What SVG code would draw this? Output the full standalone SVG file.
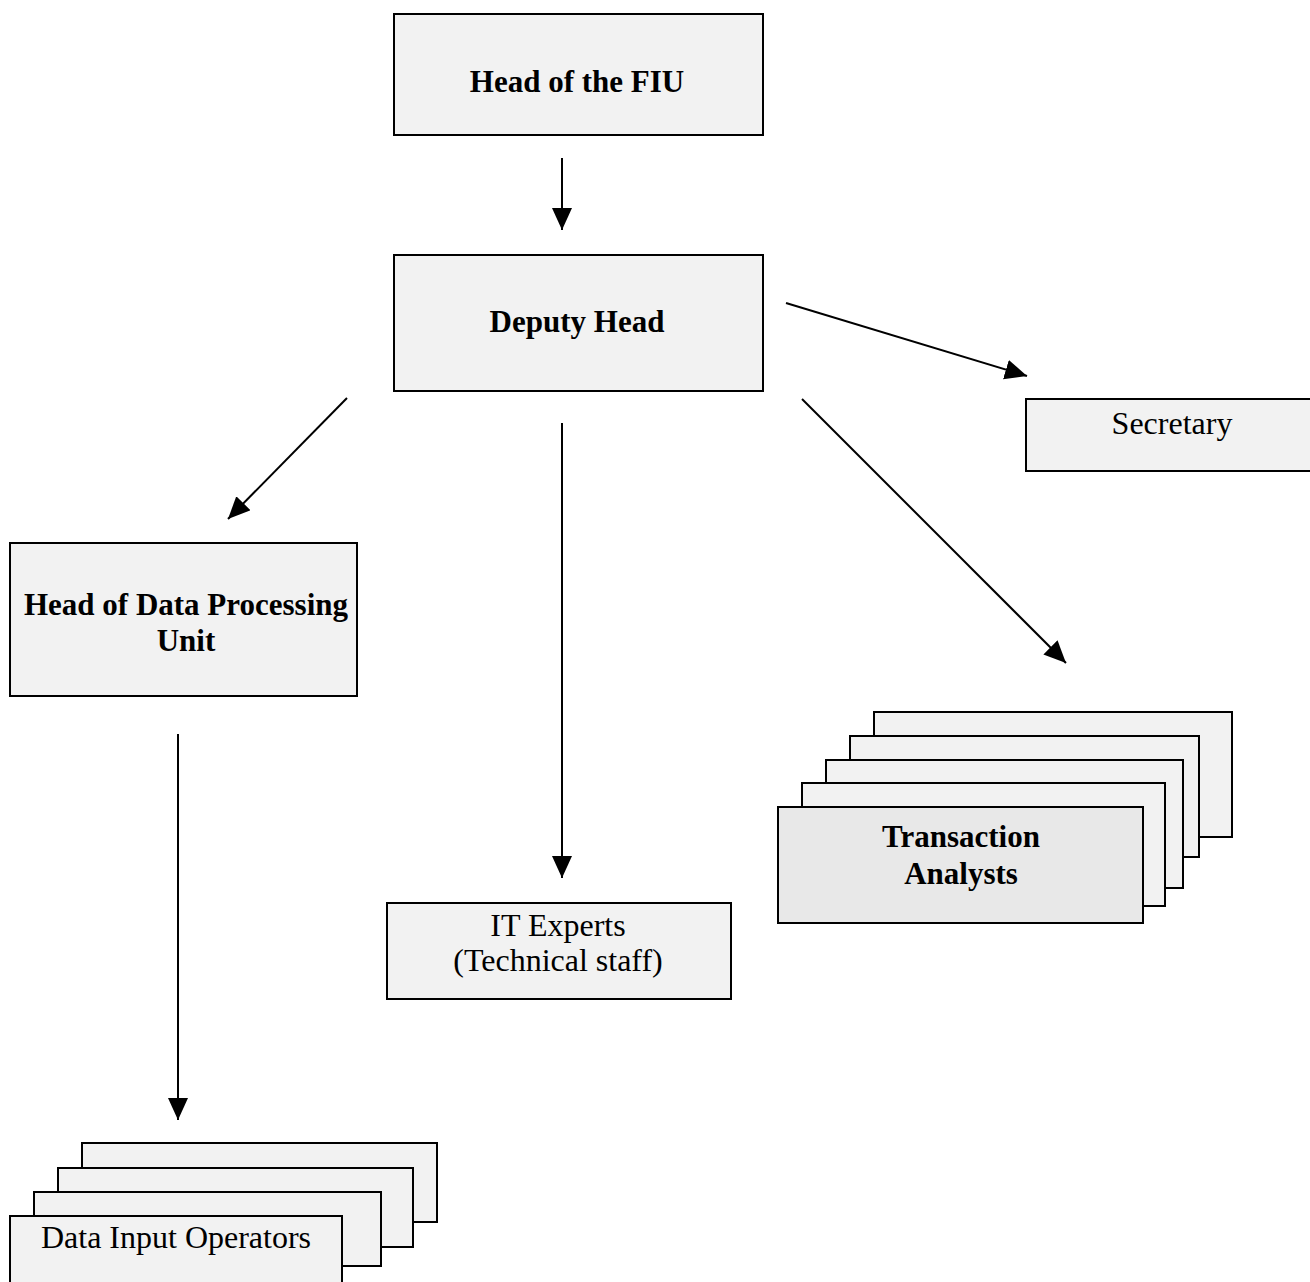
<svg xmlns="http://www.w3.org/2000/svg" width="1310" height="1282" viewBox="0 0 1310 1282">
  <style>
    .box { fill: #f2f2f2; stroke: #000; stroke-width: 2; }
    .front { fill: #e8e8e8; stroke: #000; stroke-width: 2; }
    .b { font-family: "Liberation Serif", "Times New Roman", serif; font-weight: bold; font-size: 31px; fill: #000; text-anchor: middle; }
    .r { font-family: "Liberation Serif", "Times New Roman", serif; font-size: 32px; fill: #000; text-anchor: middle; }
    .conn { stroke: #000; stroke-width: 2; fill: none; marker-end: url(#arrow); }
  </style>
  <defs>
    <marker id="arrow" markerUnits="userSpaceOnUse" markerWidth="23" markerHeight="21" refX="22" refY="10" orient="auto">
      <path d="M0,0 L22,10 L0,20 Z" fill="#000"/>
    </marker>
  </defs>
  <rect width="1310" height="1282" fill="#fff"/>

  <g id="head-fiu">
    <rect class="box" x="394" y="14" width="369" height="121"/>
    <text class="b" x="577" y="92">Head of the FIU</text>
  </g>

  <g id="deputy-head">
    <rect class="box" x="394" y="255" width="369" height="136"/>
    <text class="b" x="577" y="332">Deputy Head</text>
  </g>

  <g id="secretary">
    <rect class="box" x="1026" y="399" width="300" height="72"/>
    <text class="r" x="1172" y="434">Secretary</text>
  </g>

  <g id="head-data-processing">
    <rect class="box" x="10" y="543" width="347" height="153"/>
    <text class="b" x="186" y="615">Head of Data Processing</text>
    <text class="b" x="186" y="651">Unit</text>
  </g>

  <g id="it-experts">
    <rect class="box" x="387" y="903" width="344" height="96"/>
    <text class="r" x="558" y="936">IT Experts</text>
    <text class="r" x="558" y="971">(Technical staff)</text>
  </g>

  <g id="transaction-analysts">
    <rect class="box" x="874" y="712" width="358" height="125"/>
    <rect class="box" x="850" y="736" width="349" height="121"/>
    <rect class="box" x="826" y="760" width="357" height="128"/>
    <rect class="box" x="802" y="783" width="363" height="123"/>
    <rect class="front" x="778" y="807" width="365" height="116"/>
    <text class="b" x="961" y="847">Transaction</text>
    <text class="b" x="961" y="884">Analysts</text>
  </g>

  <g id="data-input-operators">
    <rect class="box" x="82" y="1143" width="355" height="79"/>
    <rect class="box" x="58" y="1168" width="355" height="79"/>
    <rect class="box" x="34" y="1192" width="347" height="74"/>
    <rect class="box" x="10" y="1216" width="332" height="80"/>
    <text class="r" x="176" y="1248">Data Input Operators</text>
  </g>

  <g id="connectors">
    <line class="conn" x1="562" y1="158" x2="562" y2="230"/>
    <line class="conn" x1="786" y1="303" x2="1027" y2="376"/>
    <line class="conn" x1="347" y1="398" x2="228" y2="519"/>
    <line class="conn" x1="562" y1="423" x2="562" y2="878"/>
    <line class="conn" x1="802" y1="399" x2="1066" y2="663"/>
    <line class="conn" x1="178" y1="734" x2="178" y2="1120"/>
  </g>
</svg>
